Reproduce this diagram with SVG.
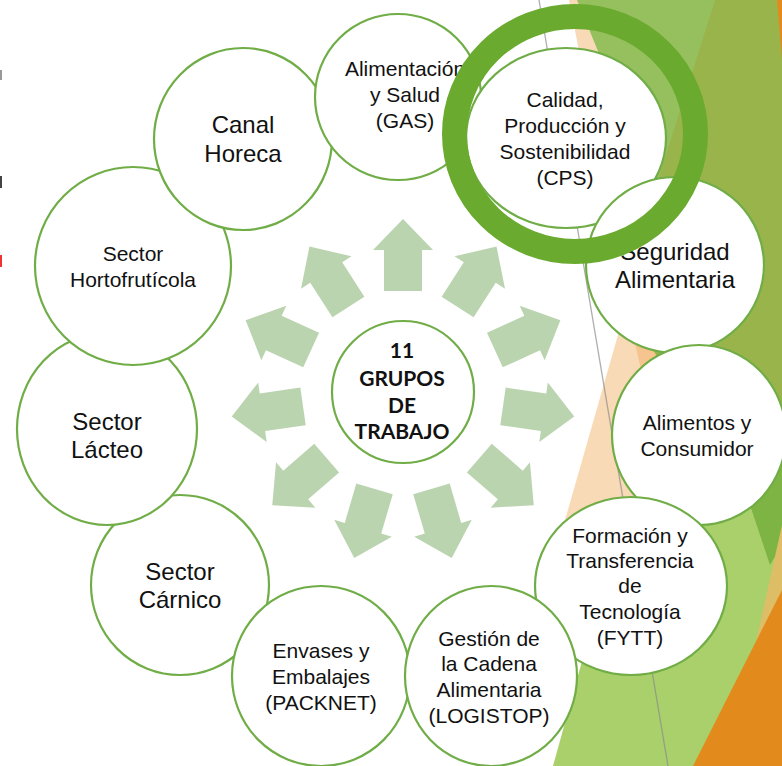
<svg xmlns="http://www.w3.org/2000/svg" width="782" height="766" viewBox="0 0 782 766">
<style>
.nd{fill:#fff;stroke:#70AD47;stroke-width:2.2}
.t{font-family:"Liberation Sans",Arial,sans-serif;fill:#111;text-anchor:middle}
.s{font-size:21px}
.l{font-size:24px}
.c{font-family:Lato,"Liberation Sans",sans-serif;font-weight:bold;font-size:21px;fill:#111;text-anchor:middle}
.ar{fill:#BBD4B0}
</style>
<defs>
<path id="arr" d="M0,-173 L30,-142 L19,-142 L19,-101 L-19,-101 L-19,-142 L-30,-142 Z"/>
</defs>
<rect width="782" height="766" fill="#fff"/>
<g id="background">
<polygon points="569,0 640,0 700,330 660,520 545,590 628,300" fill="#F9DAB7"/>
<polygon points="625,300 668,330 648,400" fill="#F5C48F"/>
<polygon points="553,766 610,560 700,520 782,480 782,766" fill="#A9D06A"/>
<polygon points="700,0 782,0 782,470 745,500 650,345 640,200" fill="#9AB44C"/>
<polygon points="577,0 715,0 655,190" fill="#96C05E"/>
<polygon points="750,505 782,440 782,545 770,565" fill="#7DB443"/>
<polygon points="782,525 782,600 752,660" fill="#DDBD65"/>
<polygon points="782,590 782,766 693,766" fill="#E38A1D"/>
<polygon points="777,0 782,0 782,60" fill="#E38A1D"/>
<line x1="539" y1="0" x2="668" y2="766" stroke="#8c8c8c" stroke-opacity="0.7" stroke-width="1.3"/>
<rect x="0" y="70" width="2" height="10" fill="#999"/>
<rect x="0" y="176" width="2" height="12" fill="#444"/>
<rect x="0" y="255" width="2" height="12" fill="#e33"/>
</g>
<g id="connectors">
<use href="#arr" class="ar" transform="translate(403,392) rotate(0)"/>
<use href="#arr" class="ar" transform="translate(403,392) rotate(32.727)"/>
<use href="#arr" class="ar" transform="translate(403,392) rotate(65.455)"/>
<use href="#arr" class="ar" transform="translate(403,392) rotate(98.182)"/>
<use href="#arr" class="ar" transform="translate(403,392) rotate(130.909)"/>
<use href="#arr" class="ar" transform="translate(403,392) rotate(163.636)"/>
<use href="#arr" class="ar" transform="translate(403,392) rotate(196.364)"/>
<use href="#arr" class="ar" transform="translate(403,392) rotate(229.091)"/>
<use href="#arr" class="ar" transform="translate(403,392) rotate(261.818)"/>
<use href="#arr" class="ar" transform="translate(403,392) rotate(294.545)"/>
<use href="#arr" class="ar" transform="translate(403,392) rotate(327.273)"/>
</g>
<g id="n-carnico"><ellipse class="nd" cx="180" cy="585" rx="89" ry="90"/>
<text class="t l" x="180" y="580">Sector</text><text class="t l" x="180" y="608">Cárnico</text></g>
<g id="n-envases"><ellipse class="nd" cx="321" cy="676" rx="89" ry="90"/>
<text class="t s" x="321" y="658">Envases y</text><text class="t s" x="321" y="684">Embalajes</text><text class="t s" x="321" y="710">(PACKNET)</text></g>
<g id="n-lacteo"><ellipse class="nd" cx="107" cy="429" rx="90" ry="96"/>
<text class="t l" x="107" y="430">Sector</text><text class="t l" x="107" y="458">Lácteo</text></g>
<g id="n-horto"><ellipse class="nd" cx="133" cy="266" rx="98" ry="99"/>
<text class="t s" x="133" y="261">Sector</text><text class="t s" x="133" y="287">Hortofrutícola</text></g>
<g id="n-canal"><ellipse class="nd" cx="243" cy="139" rx="89" ry="91"/>
<text class="t l" x="243" y="133">Canal</text><text class="t l" x="243" y="162">Horeca</text></g>
<g id="n-gas"><ellipse class="nd" cx="398" cy="97" rx="83" ry="83"/>
<text class="t s" x="405" y="76">Alimentación</text><text class="t s" x="405" y="102">y Salud</text><text class="t s" x="405" y="128">(GAS)</text></g>
<g id="n-cps"><ellipse class="nd" cx="566" cy="138" rx="100" ry="90"/>
<text class="t s" x="565" y="107">Calidad,</text><text class="t s" x="565" y="133">Producción y</text><text class="t s" x="565" y="159">Sostenibilidad</text><text class="t s" x="565" y="185">(CPS)</text></g>
<g id="n-seguridad"><ellipse class="nd" cx="675" cy="265" rx="89" ry="88"/>
<text class="t l" x="675" y="260">Seguridad</text><text class="t l" x="675" y="288">Alimentaria</text></g>
<g id="n-alimentos"><ellipse class="nd" cx="699" cy="435" rx="87" ry="90"/>
<text class="t s" x="697" y="430">Alimentos y</text><text class="t s" x="697" y="456">Consumidor</text></g>
<g id="n-formacion"><ellipse class="nd" cx="631" cy="586" rx="96" ry="89"/>
<text class="t s" x="630" y="543">Formación y</text><text class="t s" x="630" y="568">Transferencia</text><text class="t s" x="630" y="593">de</text><text class="t s" x="630" y="619">Tecnología</text><text class="t s" x="630" y="645">(FYTT)</text></g>
<g id="n-gestion"><ellipse class="nd" cx="491" cy="676" rx="86" ry="90"/>
<text class="t s" x="489" y="646">Gestión de</text><text class="t s" x="489" y="671">la Cadena</text><text class="t s" x="489" y="697">Alimentaria</text><text class="t s" x="489" y="723">(LOGISTOP)</text></g>
<g id="n-center"><circle class="nd" cx="403" cy="392" r="71"/>
<text class="c" x="402" y="358">11</text><text class="c" x="402" y="386">GRUPOS</text><text class="c" x="402" y="413">DE</text><text class="c" x="402" y="439">TRABAJO</text></g>
<g id="highlight-ring"><ellipse cx="575" cy="134" rx="120.5" ry="117.5" fill="none" stroke="#6AAA2F" stroke-width="25"/></g>
</svg>
